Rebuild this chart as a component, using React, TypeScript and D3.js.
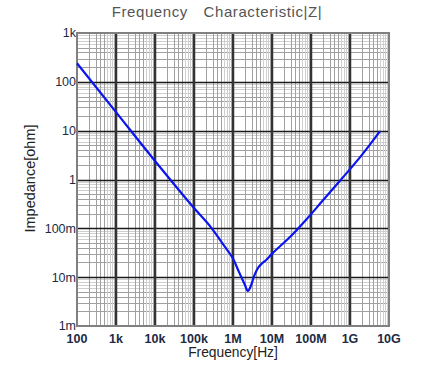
import React, { useEffect, useRef } from "react";
import * as d3 from "d3";

// impedance curve (Hz, ohm)
const freqs = [100, 1e3, 1e4, 3.16e4, 1e5, 2.85e5, 6.3e5, 1e6, 1.41e6, 2e6, 2.4e6, 2.8e6, 3.55e6, 4.47e6, 5.5e6, 7.08e6, 1e7, 3.16e7, 7.4e7, 2e8, 5.9e8, 2e9, 5.9e9];
const impedance = [240, 24, 2.4, 0.78, 0.26, 0.1, 0.041, 0.024, 0.013, 0.0071, 0.0052, 0.0063, 0.011, 0.0158, 0.019, 0.0224, 0.030, 0.071, 0.148, 0.37, 1.0, 3.16, 9.8];

const xTicks = [1e2, 1e3, 1e4, 1e5, 1e6, 1e7, 1e8, 1e9, 1e10];
const xTickLabels = ["100", "1k", "10k", "100k", "1M", "10M", "100M", "1G", "10G"];
const yTicks = [1e-3, 1e-2, 1e-1, 1, 10, 100, 1e3];
const yTickLabels = ["1m", "10m", "100m", "1", "10", "100", "1k"];

const W = 434;
const H = 368;
const m = { top: 33, right: 45, bottom: 42, left: 77 };

const App = () => {
  const ref = useRef<SVGSVGElement>(null);

  useEffect(() => {
    const svg = d3.select(ref.current);
    svg.selectAll("*").remove();
    const width = W - m.left - m.right;
    const height = H - m.top - m.bottom;

    const x = d3.scaleLog().domain([1e2, 1e10]).range([m.left, m.left + width]);
    const y = d3.scaleLog().domain([1e-3, 1e3]).range([m.top + height, m.top]);

    const g = svg.append("g");

    // minor grid
    const minors: number[] = [];
    for (let e = -3; e < 10; e++) for (let k = 2; k <= 9; k++) minors.push(k * Math.pow(10, e));
    const xMin = minors.filter(v => v > 1e2 && v < 1e10);
    const yMin = minors.filter(v => v > 1e-3 && v < 1e3);
    const shade = (v: number) => {
      const k = Math.round(v / Math.pow(10, Math.floor(Math.log10(v) + 1e-9)));
      return k <= 5 ? "#a0a0a0" : "#cfcfcf";
    };

    g.selectAll(".hmin").data(yMin).enter().append("line")
      .attr("x1", m.left).attr("x2", m.left + width)
      .attr("y1", d => Math.round(y(d)) + 0.5).attr("y2", d => Math.round(y(d)) + 0.5)
      .attr("stroke", d => shade(d)).attr("stroke-width", 1);
    g.selectAll(".vmin").data(xMin).enter().append("line")
      .attr("y1", m.top).attr("y2", m.top + height)
      .attr("x1", d => Math.round(x(d)) + 0.5).attr("x2", d => Math.round(x(d)) + 0.5)
      .attr("stroke", d => shade(d)).attr("stroke-width", 1);

    // major grid
    g.selectAll(".hmaj").data(yTicks.slice(1, -1)).enter().append("line")
      .attr("x1", m.left).attr("x2", m.left + width)
      .attr("y1", d => Math.round(y(d)) + 0.5).attr("y2", d => Math.round(y(d)) + 0.5)
      .attr("stroke", "#1a1a1a").attr("stroke-width", 1.5);
    g.selectAll(".vmaj").data(xTicks.slice(1, -1)).enter().append("line")
      .attr("y1", m.top).attr("y2", m.top + height)
      .attr("x1", d => Math.round(x(d))).attr("x2", d => Math.round(x(d)))
      .attr("stroke", "#333").attr("stroke-width", 2.5);

    // frame
    g.append("rect")
      .attr("x", m.left).attr("y", m.top).attr("width", width).attr("height", height)
      .attr("fill", "none").attr("stroke", "#808080").attr("stroke-width", 2);

    // curve
    const line = d3.line<number>()
      .x((d, i) => x(freqs[i]))
      .y(d => y(d))
      .curve(d3.curveMonotoneX);
    g.append("path")
      .attr("d", line(impedance))
      .attr("fill", "none").attr("stroke", "#0a14f0").attr("stroke-width", 2.2);

    const font = "'Liberation Sans', Arial, sans-serif";
    // tick labels
    g.selectAll(".xl").data(xTicks).enter().append("text")
      .attr("x", d => x(d)).attr("y", m.top + height + 17)
      .attr("text-anchor", "middle").attr("font-family", font).attr("font-size", 12.5)
      .attr("font-weight", "bold").attr("fill", "#1c2a44")
      .text((d, i) => xTickLabels[i]);
    g.selectAll(".yl").data(yTicks).enter().append("text")
      .attr("x", m.left - 1).attr("y", d => y(d)).attr("dy", "0.35em")
      .attr("text-anchor", "end").attr("font-family", font).attr("font-size", 12.5)
      .attr("fill", "#1c2a44")
      .text((d, i) => yTickLabels[i]);

    // titles
    g.append("text")
      .attr("x", 217).attr("y", 17).attr("text-anchor", "middle")
      .attr("font-family", font).attr("font-size", 15).attr("fill", "#555")
      .attr("letter-spacing", 0.6)
      .text("Frequency\u3000Characteristic|Z|");
    g.append("text")
      .attr("x", m.left + width / 2).attr("y", 357).attr("text-anchor", "middle")
      .attr("font-family", font).attr("font-size", 13.8).attr("fill", "#222")
      .text("Frequency[Hz]");
    g.append("text")
      .attr("transform", `translate(35,${m.top + height / 2 - 1}) rotate(-90)`)
      .attr("text-anchor", "middle")
      .attr("font-family", font).attr("font-size", 14.5).attr("fill", "#222")
      .text("Impedance[ohm]");
  }, []);

  return (
    <svg ref={ref} width={W} height={H}
      style={{ position: "absolute", left: 0, top: 0, background: "#fff" }} />
  );
};

export default App;
